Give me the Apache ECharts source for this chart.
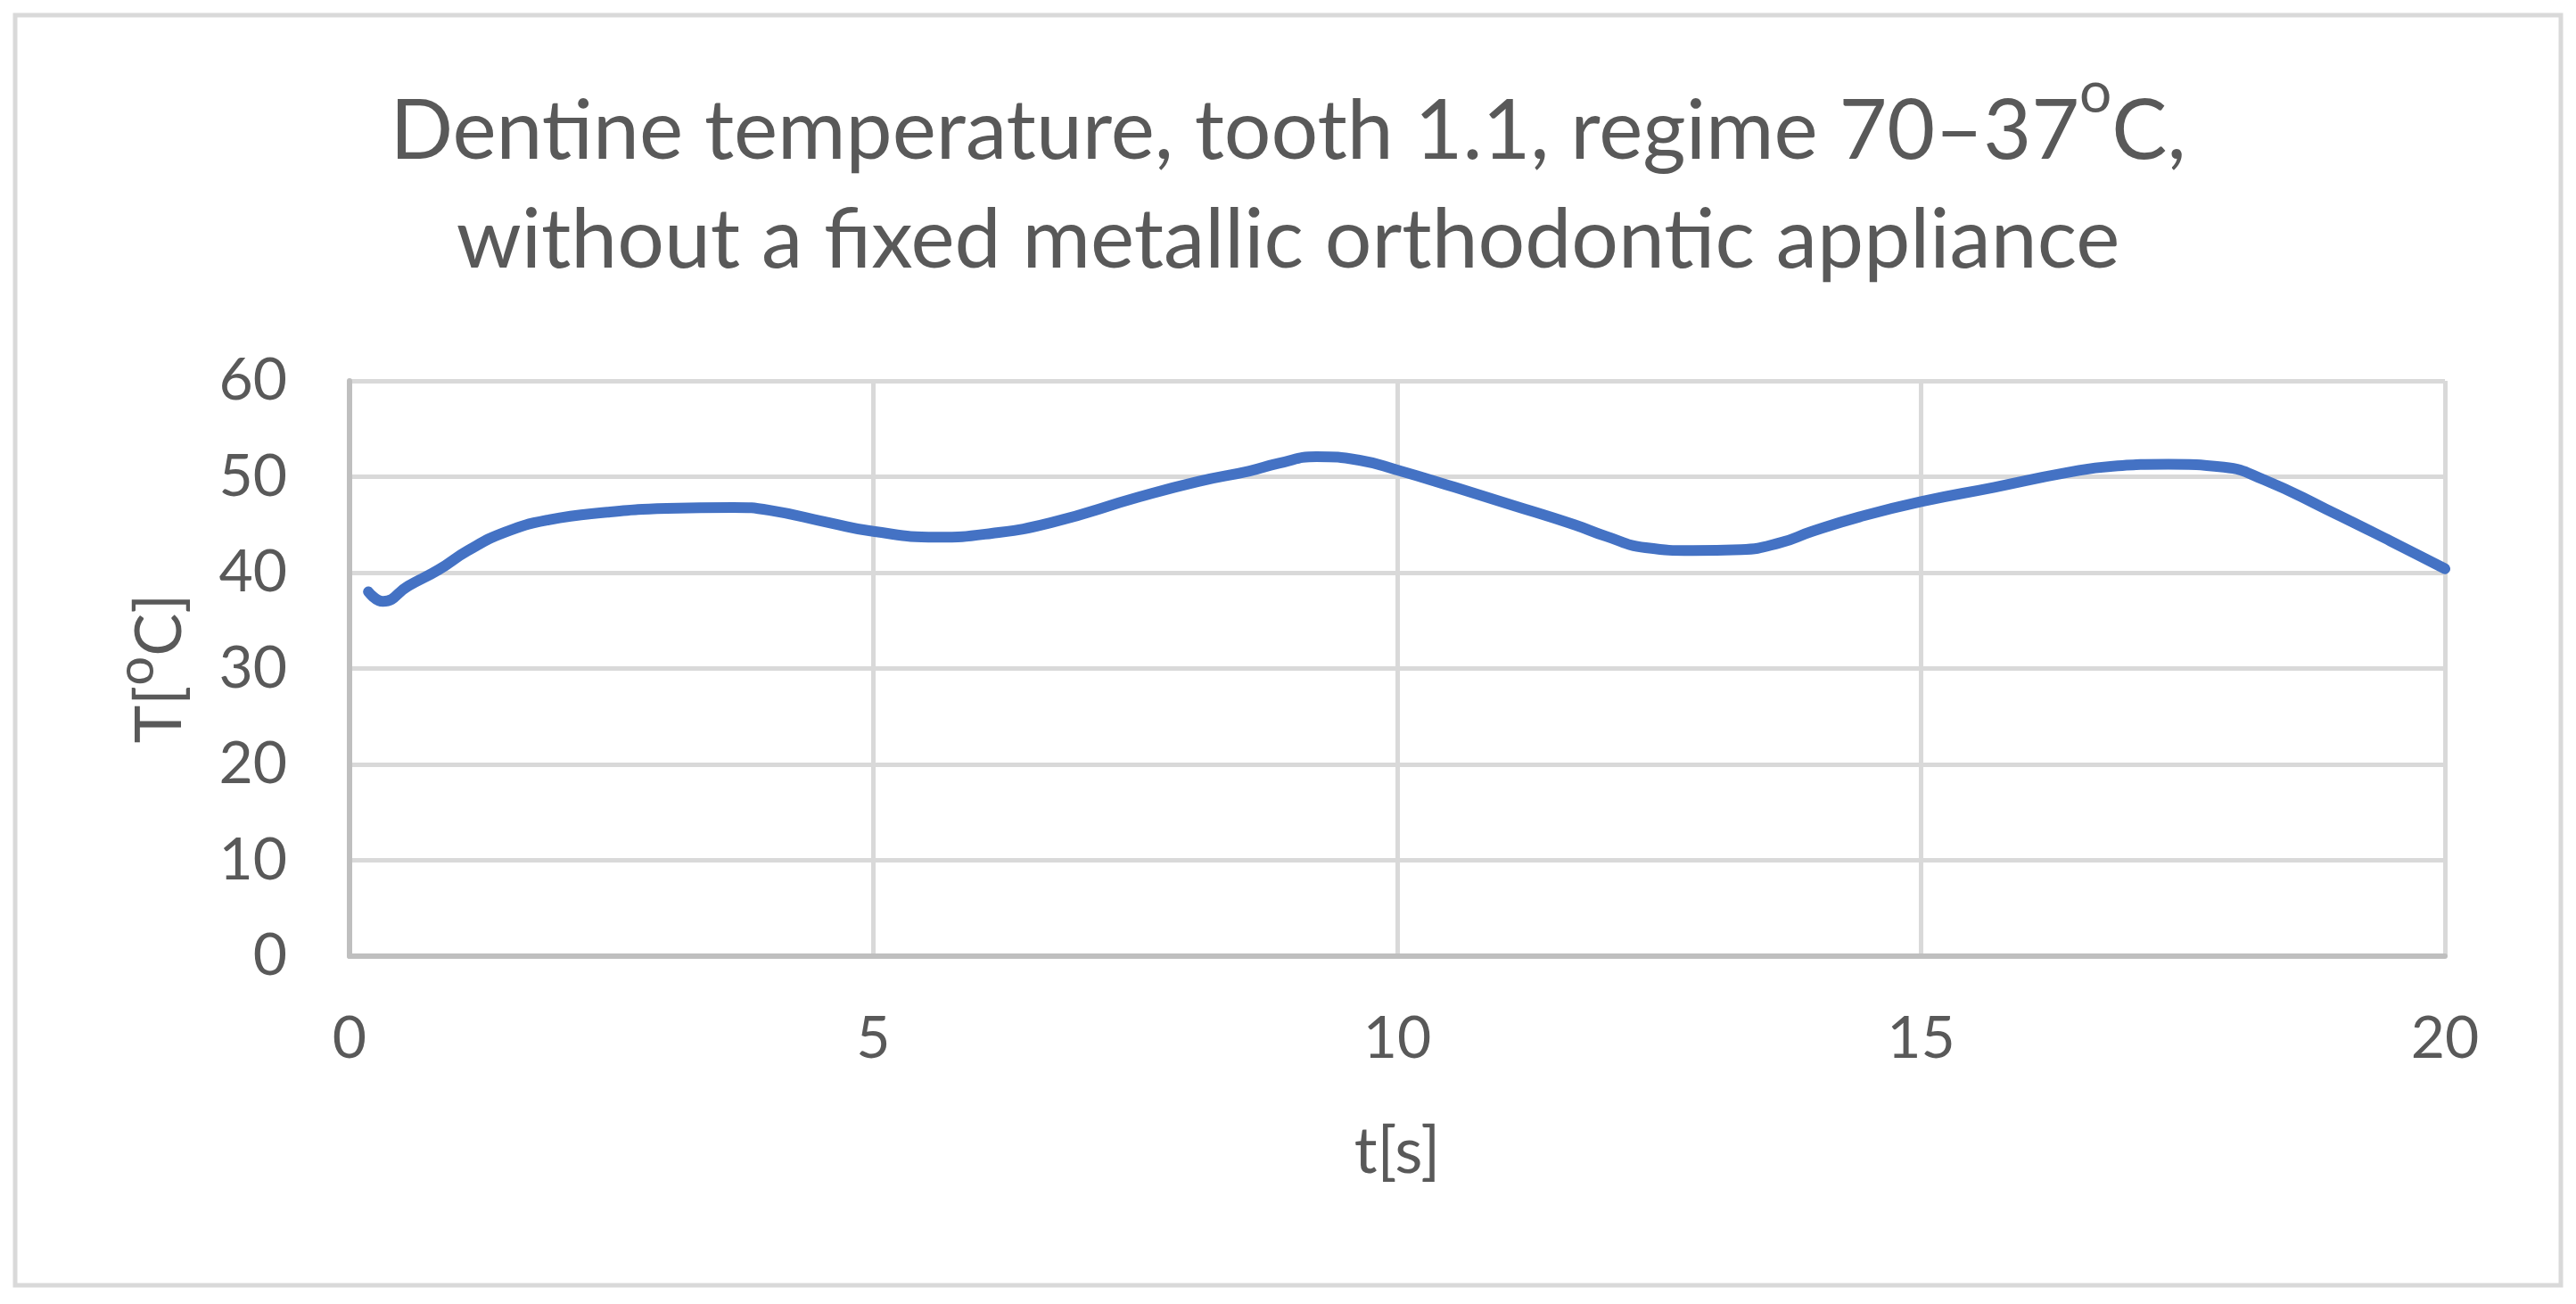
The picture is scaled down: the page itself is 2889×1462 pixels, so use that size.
<!DOCTYPE html>
<html lang="en">
<head>
<meta charset="utf-8">
<title>Dentine temperature</title>
<script src="https://cdn.jsdelivr.net/npm/echarts@6/dist/echarts.min.js"></script>
<style>
  html, body { margin: 0; padding: 0; background: #fff; }
  #chart { width: 2889px; height: 1462px; }
</style>
</head>
<body>
<div id="chart"></div>
<script>
    // values
    var titleLine1 = 'Dentine temperature, tooth 1.1, regime 70\u201337{sup|o}C,';
    var titleLine2 = 'without a fixed metallic orthodontic appliance';
    var xName = 't[s]';
    var yName = 'T[{sup|o}C]';

    var time = [0.18, 0.32, 0.56, 0.85, 1.13, 1.48, 1.90, 2.46, 3.03, 3.66,
                4.01, 4.58, 5.00, 5.60, 6.13, 6.69, 7.54, 8.10, 8.59, 8.87,
                9.23, 9.65, 10.00, 10.55, 11.08, 11.69, 11.99, 12.37, 12.82, 13.28,
                13.65, 13.96, 14.41, 15.00, 15.70, 16.38, 16.83, 17.36, 17.89, 18.27,
                18.87, 19.48, 20.00];
    var temp = [38.0, 37.0, 38.6, 40.3, 42.3, 44.2, 45.5, 46.3, 46.7, 46.8,
                46.5, 45.2, 44.3, 43.7, 44.1, 45.2, 47.9, 49.5, 50.6, 51.4,
                52.1, 51.7, 50.7, 48.9, 47.1, 45.0, 43.8, 42.6, 42.3, 42.4,
                43.1, 44.3, 45.8, 47.4, 48.9, 50.4, 51.1, 51.3, 51.0, 49.7,
                46.6, 43.3, 40.4];

    var points = [];
    for (var i = 0; i < time.length; i++) {
        points.push([time[i], temp[i]]);
    }

    var textColor = '#595959';
    var font = 'Lato';

    var option = {
        backgroundColor: '#ffffff',
        animation: false,
        title: [
            {
                // tall line box so the 'o' sitting at the top reads as a superscript
                text: titleLine1,
                left: 'center',
                top: 68,
                textStyle: {
                    fontFamily: font, fontSize: 93, fontWeight: 'normal',
                    color: textColor, lineHeight: 150,
                    rich: {
                        sup: { fontFamily: font, fontSize: 64, color: textColor,
                               verticalAlign: 'top' }
                    }
                }
            },
            {
                text: titleLine2,
                left: 'center',
                top: 210,
                textStyle: {
                    fontFamily: font, fontSize: 93, fontWeight: 'normal',
                    color: textColor, lineHeight: 110
                }
            }
        ],
        graphic: [
            {
                type: 'rect',
                shape: { x: 17, y: 17, width: 2855, height: 1424 },
                style: { fill: 'none', stroke: '#d9d9d9', lineWidth: 5 },
                silent: true
            }
        ],
        grid: {
            left: 392,
            right: 147,
            top: 427,
            bottom: 390
        },
        xAxis: {
            type: 'value',
            min: 0,
            max: 20,
            interval: 5,
            name: xName,
            nameLocation: 'middle',
            nameGap: 184,
            nameTextStyle: { fontFamily: font, fontSize: 72, color: textColor },
            axisLine: { onZero: true, lineStyle: { color: '#bfbfbf', width: 6 } },
            axisTick: { show: false },
            axisLabel: { fontFamily: font, fontSize: 66, color: textColor, margin: 60 },
            splitLine: { show: true, lineStyle: { color: '#d9d9d9', width: 5 } }
        },
        yAxis: {
            type: 'value',
            min: 0,
            max: 60,
            interval: 10,
            name: yName,
            nameLocation: 'middle',
            nameGap: 157,
            nameRotate: 90,
            nameTextStyle: {
                fontFamily: font, fontSize: 72, color: textColor, lineHeight: 110,
                rich: {
                    sup: { fontFamily: font, fontSize: 58, color: textColor,
                           verticalAlign: 'top' }
                }
            },
            axisLine: { show: true, lineStyle: { color: '#bfbfbf', width: 6 } },
            axisTick: { show: false },
            axisLabel: { fontFamily: font, fontSize: 66, color: textColor, margin: 70 },
            splitLine: { show: true, lineStyle: { color: '#d9d9d9', width: 5 } }
        },
        series: [
            {
                type: 'line',
                data: points,
                smooth: true,
                showSymbol: false,
                lineStyle: { color: '#4472c4', width: 12, cap: 'round', join: 'round' }
            }
        ]
    };

    var myChart = echarts.init(document.getElementById('chart'), null, { renderer: 'canvas' });
    myChart.setOption(option);
</script>
</body>
</html>
